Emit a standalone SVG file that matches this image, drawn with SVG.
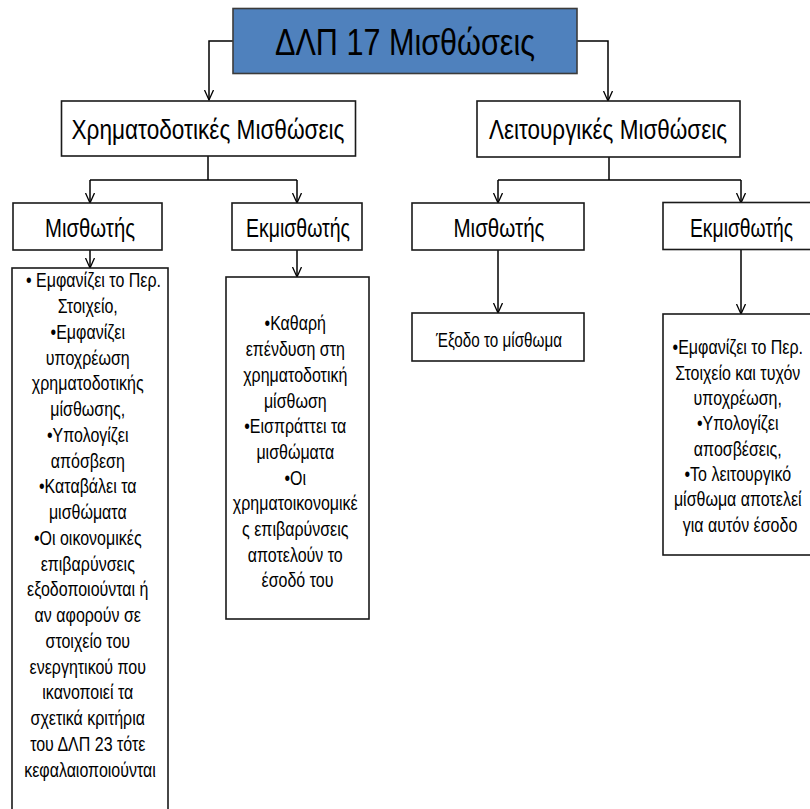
<svg xmlns="http://www.w3.org/2000/svg" width="810" height="809" viewBox="0 0 810 809">
<defs>
<marker id="arr" markerWidth="12" markerHeight="12" refX="10" refY="5" orient="auto" markerUnits="userSpaceOnUse">
<polyline points="0,0.5 10,5 0,9.5" fill="none" stroke="#000" stroke-width="1.3"/>
</marker>
<style>
.box{fill:#fff;stroke:#1a1a1a;stroke-width:1.6}
.top{fill:#4F81BD;stroke:#3b3b3b;stroke-width:1.6}
.t{font-family:"Liberation Sans",Arial,sans-serif;fill:#000;text-anchor:middle}
.h0{font-size:36px}
.h1{font-size:27px}
.h2{font-size:25px}
.b{font-size:19.5px}
.c{fill:none;stroke:#000;stroke-width:1.5}
</style>
</defs>
<rect width="810" height="809" fill="#fff"/>
<g id="connectors">
<polyline class="c" points="233,41 209,41 209,100" marker-end="url(#arr)"/>
<polyline class="c" points="577,41 608,41 608,101" marker-end="url(#arr)"/>
<polyline class="c" points="208,156 208,180"/>
<polyline class="c" points="90,180 297,180"/>
<polyline class="c" points="90,180 90,203" marker-end="url(#arr)"/>
<polyline class="c" points="297,180 297,203" marker-end="url(#arr)"/>
<polyline class="c" points="609,157 609,180"/>
<polyline class="c" points="498,180 741,180"/>
<polyline class="c" points="498,180 498,203" marker-end="url(#arr)"/>
<polyline class="c" points="741,180 741,203" marker-end="url(#arr)"/>
<polyline class="c" points="90,250 90,268" marker-end="url(#arr)"/>
<polyline class="c" points="297,250 297,277" marker-end="url(#arr)"/>
<polyline class="c" points="498,250 498,313" marker-end="url(#arr)"/>
<polyline class="c" points="741,249 741,314" marker-end="url(#arr)"/>
</g>
<g id="n-root">
<rect class="top" x="233" y="8.5" width="344" height="65"/>
<text class="t h0" x="405" y="55" textLength="260" lengthAdjust="spacingAndGlyphs">ΔΛΠ 17 Μισθώσεις</text>
</g>
<g id="n-finance">
<rect class="box" x="61.5" y="101" width="294" height="55"/>
<text class="t h1" x="208" y="139" textLength="273" lengthAdjust="spacingAndGlyphs">Χρηματοδοτικές Μισθώσεις</text>
</g>
<g id="n-operating">
<rect class="box" x="477" y="101" width="263" height="56"/>
<text class="t h1" x="608" y="139" textLength="238" lengthAdjust="spacingAndGlyphs">Λειτουργικές Μισθώσεις</text>
</g>
<g id="n-fin-lessee">
<rect class="box" x="13" y="203" width="149" height="47"/>
<text class="t h2" x="90" y="236.5" textLength="90" lengthAdjust="spacingAndGlyphs">Μισθωτής</text>
</g>
<g id="n-fin-lessor">
<rect class="box" x="232" y="203" width="130" height="47"/>
<text class="t h2" x="298" y="236.5" textLength="104" lengthAdjust="spacingAndGlyphs">Εκμισθωτής</text>
</g>
<g id="n-op-lessee">
<rect class="box" x="412" y="203" width="172" height="47"/>
<text class="t h2" x="499" y="236.5" textLength="91" lengthAdjust="spacingAndGlyphs">Μισθωτής</text>
</g>
<g id="n-op-lessor">
<rect class="box" x="663" y="202.5" width="160" height="47"/>
<text class="t h2" x="741.5" y="236.5" textLength="103" lengthAdjust="spacingAndGlyphs">Εκμισθωτής</text>
</g>
<g id="n-fin-lessee-detail">
<rect class="box" x="12" y="268" width="156" height="560"/>
<g transform="translate(90 0) scale(0.82 1)">
<text class="t b">
<tspan x="7" y="287.3">• Εμφανίζει το Περ.</tspan>
<tspan x="0" y="313.1">Στοιχείο,</tspan>
<tspan x="0" y="338.8">•Εμφανίζει</tspan>
<tspan x="0" y="364.6">υποχρέωση</tspan>
<tspan x="0" y="390.3">χρηματοδοτικής</tspan>
<tspan x="0" y="416.1">μίσθωσης,</tspan>
<tspan x="0" y="441.9">•Υπολογίζει</tspan>
<tspan x="0" y="467.6">απόσβεση</tspan>
<tspan x="0" y="493.4">•Καταβάλει τα</tspan>
<tspan x="0" y="519.1">μισθώματα</tspan>
<tspan x="0" y="544.9">•Οι οικονομικές</tspan>
<tspan x="0" y="570.7">επιβαρύνσεις</tspan>
<tspan x="0" y="596.4">εξοδοποιούνται ή</tspan>
<tspan x="0" y="622.2">αν αφορούν σε</tspan>
<tspan x="0" y="647.9">στοιχείο του</tspan>
<tspan x="0" y="673.7">ενεργητικού που</tspan>
<tspan x="0" y="699.5">ικανοποιεί τα</tspan>
<tspan x="0" y="725.2">σχετικά κριτήρια</tspan>
<tspan x="0" y="751">του ΔΛΠ 23 τότε</tspan>
<tspan x="0" y="776.7">κεφαλαιοποιούνται</tspan>
</text>
</g>
</g>
<g id="n-fin-lessor-detail">
<rect class="box" x="226" y="277" width="143" height="342"/>
<g transform="translate(297.5 0) scale(0.82 1)">
<text class="t b">
<tspan x="0" y="330.5">•Καθαρή</tspan>
<tspan x="0" y="356.2">επένδυση στη</tspan>
<tspan x="0" y="381.9">χρηματοδοτική</tspan>
<tspan x="0" y="407.6">μίσθωση</tspan>
<tspan x="0" y="433.3">•Εισπράττει τα</tspan>
<tspan x="0" y="459">μισθώματα</tspan>
<tspan x="0" y="484.7">•Οι</tspan>
<tspan x="0" y="510.4">χρηματοικονομικέ</tspan>
<tspan x="0" y="536.1">ς επιβαρύνσεις</tspan>
<tspan x="0" y="561.8">αποτελούν το</tspan>
<tspan x="0" y="587.5">έσοδό του</tspan>
</text>
</g>
</g>
<g id="n-op-lessee-detail">
<rect class="box" x="412" y="313" width="172" height="48"/>
<text class="t b" x="499" y="347" textLength="126" lengthAdjust="spacingAndGlyphs">Έξοδο το μίσθωμα</text>
</g>
<g id="n-op-lessor-detail">
<rect class="box" x="663" y="314" width="160" height="241"/>
<g transform="translate(740 0) scale(0.82 1)">
<text class="t b">
<tspan x="0" y="354.3">•Εμφανίζει το Περ.</tspan>
<tspan x="0" y="379.6">Στοιχείο και τυχόν</tspan>
<tspan x="0" y="404.9">υποχρέωση,</tspan>
<tspan x="0" y="430.3">•Υπολογίζει</tspan>
<tspan x="0" y="455.6">αποσβέσεις,</tspan>
<tspan x="0" y="481">•Το λειτουργικό</tspan>
<tspan x="0" y="506.3">μίσθωμα αποτελεί</tspan>
<tspan x="0" y="531.7">για αυτόν έσοδο</tspan>
</text>
</g>
</g>
</svg>
